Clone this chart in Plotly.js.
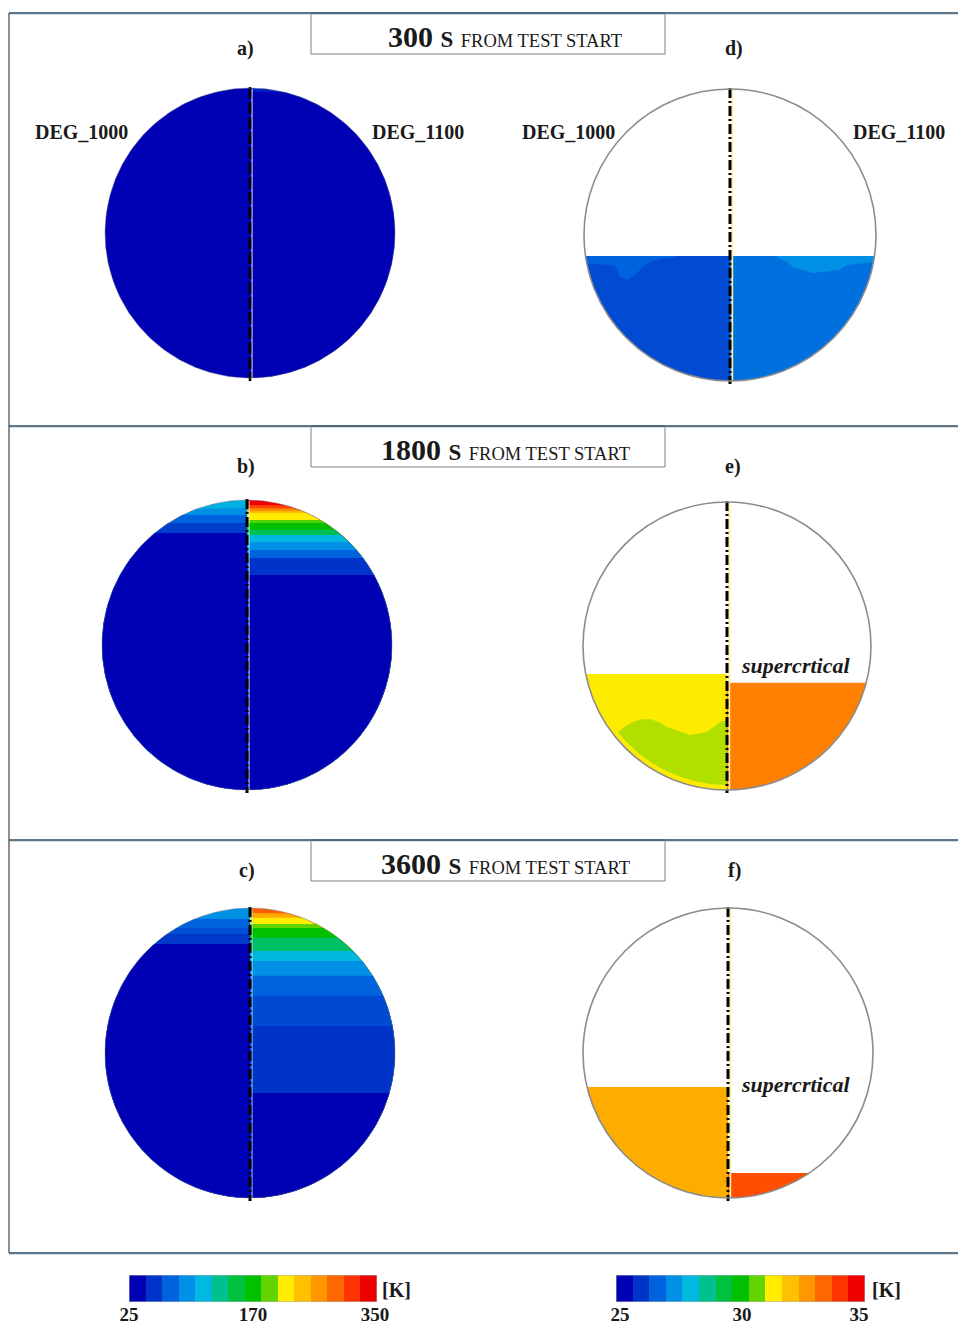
<!DOCTYPE html>
<html><head><meta charset="utf-8">
<script src="https://cdn.plot.ly/plotly-3.0.1.min.js"></script>
<style>body{margin:0;background:#fff}#chart{width:958px;height:1328px}</style>
</head><body><div id="chart"></div>
<script>
// ================= DATA =================
// discrete colour scale (15 levels) shared by both legends
const scaleColors = ['#0000b4','#0034c8','#0062dc','#0090e6','#00b8e0','#00c08c','#00c040','#00c000','#62d400','#ffec00','#ffc000','#ff9800','#ff6800','#ff3400','#ee0000'];
const scale1Range = [25, 350];            // left column, K
const scale1Ticks = ['25', '170', '350'];
const scale2Range = [25, 35];             // right column, K
const scale2Ticks = ['25', '30', '35'];

const timeLabels = ['300', '1800', '3600'];
const panelLetters = ['a)', 'b)', 'c)', 'd)', 'e)', 'f)'];
const caseNames = ['DEG_1000', 'DEG_1100'];
const phaseNote = 'supercrtical';

// Left column: stratified bands. depth = fraction of diameter from top; T = band temperature (K)
const aLeftDepth  = [0, 1];                 const aLeftT  = [36];
const aRightDepth = [0, 0.012, 1];          const aRightT = [50, 36];
const bLeftDepth  = [0, 0.028, 0.052, 0.079, 0.114, 1];
const bLeftT      = [118, 101, 79, 62, 36];
const bRightDepth = [0, 0.017, 0.028, 0.038, 0.045, 0.069, 0.079, 0.103, 0.121, 0.145, 0.172, 0.2, 0.259, 1];
const bRightT     = [339, 310, 280, 255, 231, 205, 188, 160, 123, 101, 79, 57, 36];
const cLeftDepth  = [0, 0.038, 0.069, 0.090, 0.124, 1];
const cLeftT      = [101, 79, 70, 60, 36];
const cRightDepth = [0, 0.017, 0.034, 0.055, 0.069, 0.103, 0.148, 0.183, 0.234, 0.303, 0.407, 0.638, 1];
const cRightT     = [300, 265, 231, 209, 188, 155, 123, 101, 79, 68, 57, 36];

// Right column: liquid levels (fraction of diameter from top) and liquid temperatures (K)
const dLevel = [0.572, 0.572];  const dT = [26.33, 26.87];
const eLevel = [0.597, 0.628];  const eT = [31.33, 33.0];
const fLevel = [0.617, 0.914];  const fT = [32.33, 33.67];
// warmer surface layers in d) (u,w in circle radii), and cooler core in e)
const dLayerLeft  = [[-0.990,0.144],[-0.363,0.144],[-0.363,0.151],[-0.479,0.164],[-0.568,0.192],[-0.651,0.274],[-0.705,0.308],[-0.753,0.288],[-0.788,0.212],[-0.890,0.199],[-0.980,0.199]];
const dLayerLeftT = 26.67;
const dLayerRight = [[0.322,0.144],[0.990,0.144],[0.983,0.185],[0.801,0.205],[0.753,0.240],[0.568,0.260],[0.445,0.226],[0.390,0.185],[0.322,0.151]];
const dLayerRightT = 27.33;
const eCoreTop = [[-0.722,0.569],[-0.66,0.530],[-0.60,0.510],[-0.535,0.507],[-0.47,0.530],[-0.417,0.563],[-0.257,0.618],[-0.139,0.597],[-0.049,0.528],[0,0.514]];
const eCoreT = 31.0;

// ================= GEOMETRY / HELPERS =================
const P = {
  a:{cx:250,cy:233,r:145}, b:{cx:247,cy:645,r:145}, c:{cx:250,cy:1053,r:145},
  d:{cx:730,cy:235,r:146}, e:{cx:727,cy:646,r:144}, f:{cx:728,cy:1053,r:145}
};
function hex2rgb(h){return [parseInt(h.slice(1,3),16),parseInt(h.slice(3,5),16),parseInt(h.slice(5,7),16)];}
function colorOf(T, range){
  const n = scaleColors.length;
  let v = (T-range[0])/(range[1]-range[0])*n - 0.5;
  v = Math.max(0, Math.min(n-1, v));
  const i = Math.floor(v), f = v-i;
  const a = hex2rgb(scaleColors[i]), b = hex2rgb(scaleColors[Math.min(i+1,n-1)]);
  return 'rgb(' + a.map((x,k)=>Math.round(x+(b[k]-x)*f)).join(',') + ')';
}
function arc(side, f1, f2, rad){
  const pts=[]; const n=Math.max(2,Math.ceil(Math.abs(f2-f1)/0.015));
  for(let i=0;i<=n;i++){const f=f1+(f2-f1)*i/n; pts.push([side*rad*Math.sin(f), -rad*Math.cos(f)]);}
  return pts;
}
function bandPoly(side, d1, d2){
  const w1=2*d1-1, w2=2*d2-1;
  return [[0,w1]].concat(arc(side, Math.acos(-w1), Math.acos(-w2), 1)).concat([[0,w2]]);
}
const traces = [];
function addFill(p, pts, color){
  const xs = pts.map(q=>p.cx+q[0]*p.r), ys = pts.map(q=>p.cy+q[1]*p.r);
  xs.push(xs[0]); ys.push(ys[0]);
  traces.push({type:'scatter', mode:'lines', x:xs, y:ys, fill:'toself', fillcolor:color,
    line:{width:0, color:color}, hoverinfo:'skip', showlegend:false, xaxis:'x', yaxis:'y'});
}
function addBands(p, side, depth, T, range){
  for(let i=0;i<T.length;i++) addFill(p, bandPoly(side, depth[i], 1), colorOf(T[i], range));
}
function addLine(xs, ys, color, width, dash){
  traces.push({type:'scatter', mode:'lines', x:xs, y:ys, line:{color:color, width:width, dash:dash||'solid'},
    hoverinfo:'skip', showlegend:false, xaxis:'x', yaxis:'y'});
}

// left column
addBands(P.a,-1,aLeftDepth,aLeftT,scale1Range);  addBands(P.a,1,aRightDepth,aRightT,scale1Range);
addBands(P.b,-1,bLeftDepth,bLeftT,scale1Range);  addBands(P.b,1,bRightDepth,bRightT,scale1Range);
addBands(P.c,-1,cLeftDepth,cLeftT,scale1Range);  addBands(P.c,1,cRightDepth,cRightT,scale1Range);
// right column
[[P.d,dLevel,dT],[P.e,eLevel,eT],[P.f,fLevel,fT]].forEach(([p,lv,t])=>{
  addFill(p, bandPoly(-1, lv[0], 1), colorOf(t[0], scale2Range));
  addFill(p, bandPoly( 1, lv[1], 1), colorOf(t[1], scale2Range));
});
addFill(P.d, dLayerLeft, colorOf(dLayerLeftT, scale2Range));
addFill(P.d, dLayerRight, colorOf(dLayerRightT, scale2Range));
(function(){
  const q=eCoreTop[0]; const f0=Math.atan2(-q[0], -q[1]);
  addFill(P.e, eCoreTop.concat([[0,0.965]]).concat(arc(-1, Math.PI, f0, 0.965)), colorOf(eCoreT, scale2Range));
})();

// centre lines
['a','b','c','d','e','f'].forEach(k=>{
  const p=P[k]; const y0=p.cy-p.r-1, y1=p.cy+p.r+3;
  if(k==='a'){ addLine([p.cx+2,p.cx+2],[y0+2,y1-3],'#ffffff',1); addLine([p.cx,p.cx],[y0,y1],'#000',2.6,'12px,3px'); }
  else if(k==='b'||k==='c'){ addLine([p.cx+2,p.cx+2],[y0+2,y1-3],k==='c'?'#9fe4f5':'#d8f4ff',1); addLine([p.cx,p.cx],[y0,y1],'#000',3,'10px,3px,2px,3px'); }
  else { addLine([p.cx+2.2,p.cx+2.2],[y0+1,y1-3],'#fff2a0',2); addLine([p.cx,p.cx],[y0,y1],'#000',3,'10px,3px,2px,3px'); }
});

// legends as heatmaps
const idx = scaleColors.map((c,i)=>i);
const csDiscrete = []; scaleColors.forEach((c,i)=>{csDiscrete.push([i/15,c]); csDiscrete.push([(i+1)/15,c]);});
traces.push({type:'heatmap', z:[idx], x:idx.map(i=>i+0.5), y:[0], colorscale:csDiscrete, zmin:-0.5, zmax:14.5,
  showscale:false, hoverinfo:'skip', xaxis:'x2', yaxis:'y2'});
traces.push({type:'heatmap', z:[idx], x:idx.map(i=>i+0.5), y:[0], colorscale:csDiscrete, zmin:-0.5, zmax:14.5,
  showscale:false, hoverinfo:'skip', xaxis:'x3', yaxis:'y3'});

// ================= LAYOUT =================
const SERIF = 'Liberation Serif, Times New Roman, serif';
const shapes = [];
const boxTops = [13, 426, 840];
boxTops.forEach(t=>shapes.push({type:'rect',xref:'x',yref:'y',x0:311,x1:665,y0:t,y1:t+41,fillcolor:'#fff',line:{color:'#808080',width:1},layer:'above'}));
[13,426,840,1253].forEach(y=>{
  shapes.push({type:'line',xref:'x',yref:'y',x0:9,x1:958,y0:y+1.2,y1:y+1.2,line:{color:'#bcd0dc',width:1}});
  shapes.push({type:'line',xref:'x',yref:'y',x0:9,x1:958,y0:y,y1:y,line:{color:'#2e4a62',width:1.5}});
});
shapes.push({type:'line',xref:'x',yref:'y',x0:9,x1:9,y0:13,y1:1253,line:{color:'#444',width:1.2}});
['d','e','f'].forEach(k=>{const p=P[k]; shapes.push({type:'circle',xref:'x',yref:'y',x0:p.cx-p.r,x1:p.cx+p.r,y0:p.cy-p.r,y1:p.cy+p.r,line:{color:'#8c8c8c',width:1.6}});});
['a','b','c'].forEach(k=>{const p=P[k]; shapes.push({type:'circle',xref:'x',yref:'y',x0:p.cx-p.r,x1:p.cx+p.r,y0:p.cy-p.r,y1:p.cy+p.r,line:{color:'rgba(110,110,140,0.45)',width:1}});});
shapes.push({type:'rect',xref:'x2',yref:'y2',x0:0,x1:15,y0:-0.5,y1:0.5,line:{color:'#b0b0b0',width:1}});
shapes.push({type:'rect',xref:'x3',yref:'y3',x0:0,x1:15,y0:-0.5,y1:0.5,line:{color:'#b0b0b0',width:1}});

const ann = [];
function txt(x,y,t,size,extra){ ann.push(Object.assign({xref:'x',yref:'y',x:x,y:y,text:t,showarrow:false,xanchor:'center',yanchor:'middle',
  font:{family:SERIF,size:size,color:'#1a1a1a'}}, extra||{})); }
timeLabels.forEach((t,i)=>txt(505, boxTops[i]+23, '<b>'+t+' <span style="font-size:23px">S</span></b> <span style="font-size:18.5px">FROM TEST START</span>', 30));
const letterPos = [[245,48],[246,466],[247,870],[734,48],[733,466],[734,870]];
panelLetters.forEach((l,i)=>txt(letterPos[i][0], letterPos[i][1], '<b>'+l+'</b>', 20));
txt(81,132,'<b>'+caseNames[0]+'</b>',20); txt(418,132,'<b>'+caseNames[1]+'</b>',20);
txt(568,132,'<b>'+caseNames[0]+'</b>',20); txt(899,132,'<b>'+caseNames[1]+'</b>',20);
txt(795,665,'<b><i>'+phaseNote+'</i></b>',22); txt(795,1084,'<b><i>'+phaseNote+'</i></b>',22);
txt(396,1290,'<b>[K]</b>',20); txt(886,1290,'<b>[K]</b>',20);

const hidden = {visible:false, fixedrange:true};
const layout = {
  width:958, height:1328, margin:{l:0,r:0,t:0,b:0}, paper_bgcolor:'#fff', plot_bgcolor:'rgba(0,0,0,0)',
  showlegend:false,
  xaxis:Object.assign({range:[0,958], domain:[0,1]}, hidden),
  yaxis:Object.assign({range:[1328,0], domain:[0,1]}, hidden),
  xaxis2:{domain:[129/958,377/958], anchor:'y2', range:[0,15], showgrid:false, zeroline:false, showline:false, ticks:'',
    tickvals:[0,7.5,14.88], ticktext:scale1Ticks, tickfont:{family:SERIF,size:19,color:'#1a1a1a',weight:'bold'}, ticklabelstandoff:-1, fixedrange:true},
  yaxis2:{domain:[26/1328,53/1328], anchor:'x2', range:[-0.5,0.5], visible:false, fixedrange:true},
  xaxis3:{domain:[616/958,865/958], anchor:'y3', range:[0,15], showgrid:false, zeroline:false, showline:false, ticks:'',
    tickvals:[0.24,7.59,14.64], ticktext:scale2Ticks, tickfont:{family:SERIF,size:19,color:'#1a1a1a',weight:'bold'}, ticklabelstandoff:-1, fixedrange:true},
  yaxis3:{domain:[26/1328,53/1328], anchor:'x3', range:[-0.5,0.5], visible:false, fixedrange:true},
  shapes:shapes, annotations:ann
};
Plotly.newPlot('chart', traces, layout, {staticPlot:true, displayModeBar:false});
</script></body></html>
